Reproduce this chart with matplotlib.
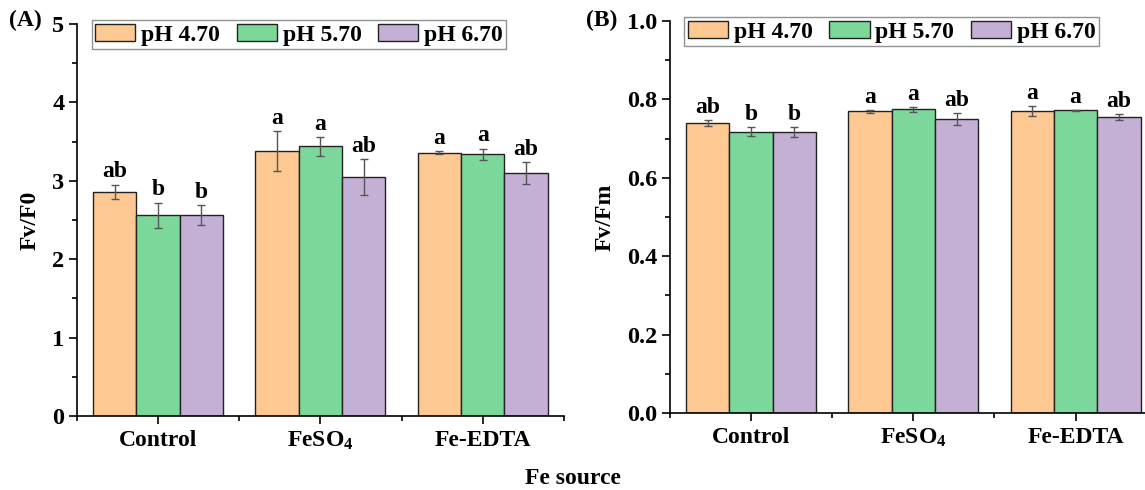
import numpy as np
import matplotlib
matplotlib.use("Agg")
import matplotlib.pyplot as plt

plt.rcParams['font.family'] = ['Liberation Serif', 'DejaVu Serif']
plt.rcParams['font.weight'] = 'bold'
plt.rcParams['mathtext.fontset'] = 'custom'
plt.rcParams['mathtext.rm'] = 'Liberation Serif:bold'
plt.rcParams['mathtext.it'] = 'Liberation Serif:bold'
plt.rcParams['mathtext.bf'] = 'Liberation Serif:bold'
plt.rcParams['mathtext.default'] = 'rm'

# data
sources = ['Control', 'FeSO$_4$', 'Fe-EDTA']
series = ['pH 4.70', 'pH 5.70', 'pH 6.70']
colors = ['#FEC893', '#7BD89A', '#C5B0D5']

fvf0 = [[2.86, 3.38, 3.36],
        [2.56, 3.44, 3.34],
        [2.56, 3.05, 3.10]]
fvf0_err = [[0.09, 0.25, 0.02],
            [0.16, 0.12, 0.07],
            [0.13, 0.23, 0.14]]
fvf0_lab = [['ab', 'a', 'a'],
            ['b', 'a', 'a'],
            ['b', 'ab', 'ab']]

fvfm = [[0.740, 0.770, 0.770],
        [0.718, 0.775, 0.772],
        [0.718, 0.750, 0.756]]
fvfm_err = [[0.007, 0.004, 0.013],
            [0.011, 0.006, 0.002],
            [0.013, 0.015, 0.008]]
fvfm_lab = [['ab', 'a', 'a'],
            ['b', 'a', 'a'],
            ['b', 'ab', 'ab']]

fs = 17
fig = plt.figure(figsize=(11.45, 4.9), dpi=100)
axA = fig.add_axes([0.0672, 0.151, 0.4253, 0.800])
axB = fig.add_axes([0.585, 0.157, 0.4253, 0.800])


def draw(ax, vals, errs, labs, ymax, ystep, yminor, ylabel, fmt, pad):
    x = np.arange(len(sources))
    w = 0.8 / 3
    for i in range(3):
        pos = x + (i - 1) * w
        ax.bar(pos, vals[i], w, color=colors[i], edgecolor='#222222',
               linewidth=1.0, label=series[i], zorder=2)
        ax.errorbar(pos, vals[i], yerr=errs[i], fmt='none', ecolor='#555555',
                    elinewidth=1.0, capsize=3, capthick=1.0, zorder=3)
        for p, v, e, t in zip(pos, vals[i], errs[i], labs[i]):
            ax.text(p, v + e + pad, t, ha='center', va='bottom',
                    fontsize=fs, fontweight='bold')
    ax.set_xlim(-0.5, 2.5)
    ax.set_ylim(0, ymax)
    ax.set_xticks(x)
    ax.set_xticklabels(sources, fontsize=fs)
    ax.set_xticks([-0.5, 0.5, 1.5, 2.5], minor=True)
    ax.set_yticks(np.arange(0, ymax + 1e-9, ystep))
    ax.set_yticks(np.arange(0, ymax + 1e-9, yminor), minor=True)
    ax.yaxis.set_major_formatter(plt.FormatStrFormatter(fmt))
    ax.tick_params(axis='both', which='major', direction='out', length=6,
                   width=1.2, labelsize=17.5, pad=3)
    ax.tick_params(axis='x', which='major', labelsize=fs, pad=4)
    ax.tick_params(axis='both', which='minor', direction='out', length=3.5,
                   width=1.2)
    ax.set_ylabel(ylabel, fontsize=fs, fontweight='bold', labelpad=8)
    for s in ['top', 'right']:
        ax.spines[s].set_visible(False)
    for s in ['left', 'bottom']:
        ax.spines[s].set_linewidth(1.2)
    leg = ax.legend(loc='upper left', bbox_to_anchor=(0.03, 1.01), ncol=3,
                    fontsize=fs, frameon=True, fancybox=False,
                    handlelength=1.7, handleheight=0.75, handletextpad=0.25,
                    columnspacing=0.7, borderpad=0.15, borderaxespad=0.0)
    leg.get_frame().set_edgecolor('#777777')
    leg.get_frame().set_linewidth(1.0)


draw(axA, fvf0, fvf0_err, fvf0_lab, 5, 1, 0.5, 'Fv/F0', '%d', 0.03)
draw(axB, fvfm, fvfm_err, fvfm_lab, 1.0, 0.2, 0.1, 'Fv/Fm', '%.1f', 0.005)

fig.text(0.008, 0.958, '(A)', fontsize=fs, fontweight='bold', va='center')
fig.text(0.512, 0.958, '(B)', fontsize=fs, fontweight='bold', va='center')
fig.text(0.5, 0.012, 'Fe source', fontsize=fs, fontweight='bold', ha='center')

fig.savefig('out.png', dpi=100)
